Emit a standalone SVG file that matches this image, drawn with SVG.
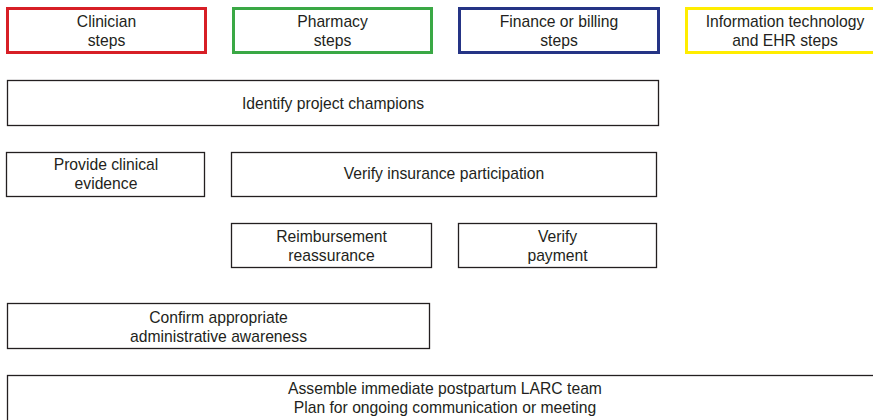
<svg xmlns="http://www.w3.org/2000/svg" width="873" height="420" viewBox="0 0 873 420">
  <style>
    .box { fill: #ffffff; stroke: #231f20; stroke-width: 1.3; }
    .key { fill: #ffffff; stroke-width: 3; }
    text { font-family: "Liberation Sans", Arial, sans-serif; font-size: 15.7px; fill: #231f20; text-anchor: middle; }
  </style>
  <rect width="873" height="420" fill="#ffffff"/>

  <!-- legend -->
  <g id="legend-clinician">
    <rect class="key" x="7.5" y="8.5" width="198" height="44" stroke="#d71f26"/>
    <text x="106.5" y="27">Clinician</text>
    <text x="106.5" y="46">steps</text>
  </g>
  <g id="legend-pharmacy">
    <rect class="key" x="233.5" y="8.5" width="198" height="44" stroke="#3aa845"/>
    <text x="332.5" y="27">Pharmacy</text>
    <text x="332.5" y="46">steps</text>
  </g>
  <g id="legend-finance">
    <rect class="key" x="459.5" y="8.5" width="199" height="44" stroke="#253485"/>
    <text x="559" y="27">Finance or billing</text>
    <text x="559" y="46">steps</text>
  </g>
  <g id="legend-it">
    <rect class="key" x="686.5" y="8.5" width="190" height="44" stroke="#ffed00"/>
    <text x="785" y="27">Information technology</text>
    <text x="785" y="46">and EHR steps</text>
  </g>

  <!-- steps -->
  <g id="identify-champions">
    <rect class="box" x="7.5" y="80.5" width="651" height="45"/>
    <text x="333" y="109">Identify project champions</text>
  </g>
  <g id="clinical-evidence">
    <rect class="box" x="6.5" y="152.5" width="198" height="44"/>
    <text x="106" y="170">Provide clinical</text>
    <text x="106" y="189">evidence</text>
  </g>
  <g id="insurance-participation">
    <rect class="box" x="231.5" y="152.5" width="425" height="44"/>
    <text x="444" y="179">Verify insurance participation</text>
  </g>
  <g id="reimbursement">
    <rect class="box" x="231.5" y="223.5" width="200" height="44"/>
    <text x="331.5" y="242">Reimbursement</text>
    <text x="331.5" y="261">reassurance</text>
  </g>
  <g id="verify-payment">
    <rect class="box" x="458.5" y="223.5" width="198" height="44"/>
    <text x="557.5" y="242">Verify</text>
    <text x="557.5" y="261">payment</text>
  </g>
  <g id="administrative-awareness">
    <rect class="box" x="7.5" y="303.5" width="422" height="45"/>
    <text x="218.5" y="323">Confirm appropriate</text>
    <text x="218.5" y="342">administrative awareness</text>
  </g>
  <g id="assemble-team">
    <rect class="box" x="7.5" y="375.5" width="875" height="55"/>
    <text x="445" y="394">Assemble immediate postpartum LARC team</text>
    <text x="445" y="413">Plan for ongoing communication or meeting</text>
  </g>

  <g id="connectors"></g>
</svg>
